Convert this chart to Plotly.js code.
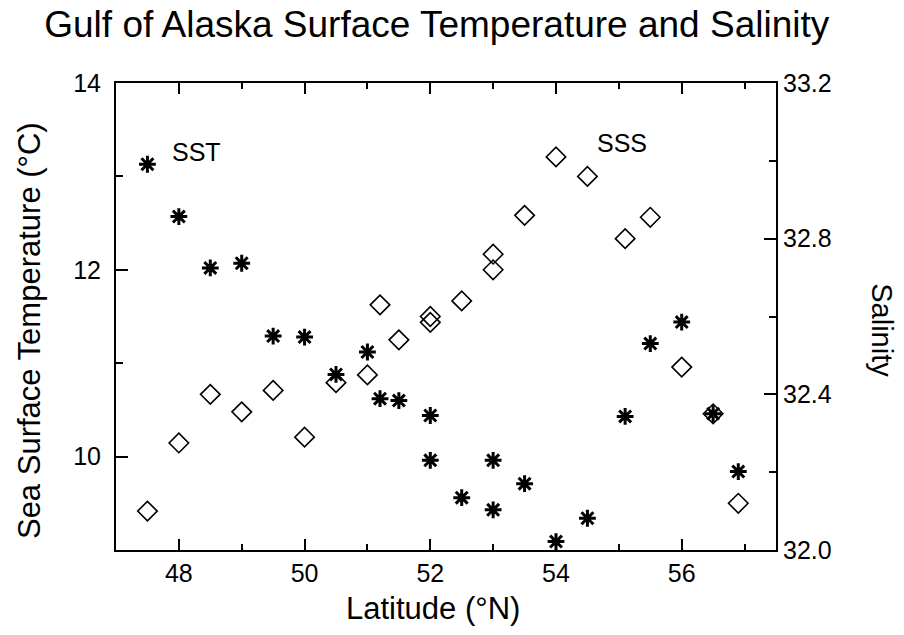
<!DOCTYPE html>
<html>
<head>
<meta charset="utf-8">
<script src="https://cdn.plot.ly/plotly-3.0.1.min.js"></script>
<style>html,body{margin:0;padding:0;background:#fff;}#chart{width:904px;height:635px;}</style>
</head>
<body>
<div id="chart"></div>
<script>
// Sea surface temperature (stars)
const sstLat = [47.5, 48.0, 48.5, 49.0, 49.5, 50.0, 50.5, 51.0, 51.2, 51.5, 52.0, 52.0, 52.5, 53.0, 53.0, 53.5, 54.0, 54.5, 55.1, 55.5, 56.0, 56.5, 56.9];
const sstVal = [13.13, 12.57, 12.02, 12.07, 11.29, 11.28, 10.88, 11.12, 10.62, 10.60, 10.44, 9.96, 9.56, 9.96, 9.43, 9.71, 9.09, 9.34, 10.43, 11.21, 11.44, 10.46, 9.84];
// Sea surface salinity (open diamonds)
const sssLat = [47.5, 48.0, 48.5, 49.0, 49.5, 50.0, 50.5, 51.0, 51.2, 51.5, 52.0, 52.0, 52.5, 53.0, 53.0, 53.5, 54.0, 54.5, 55.1, 55.5, 56.0, 56.5, 56.9];
const sssVal = [32.10, 32.275, 32.40, 32.355, 32.41, 32.29, 32.43, 32.45, 32.63, 32.54, 32.60, 32.585, 32.64, 32.76, 32.72, 32.86, 33.01, 32.96, 32.80, 32.855, 32.47, 32.35, 32.12];

const xTicks = [48, 50, 52, 54, 56];
const yTicks = [10, 12, 14];
const y2Ticks = [32.0, 32.4, 32.8, 33.2];
const y2TickText = ['32.0', '32.4', '32.8', '33.2'];

const FONT = 'Liberation Sans, Arial, sans-serif';

const traces = [
  {
    x: sstLat, y: sstVal, type: 'scatter', mode: 'markers', name: 'SST',
    marker: {symbol: 'asterisk', size: 14, color: '#000', line: {color: '#000', width: 3}},
    yaxis: 'y'
  },
  {
    x: sssLat, y: sssVal, type: 'scatter', mode: 'markers', name: 'SSS',
    marker: {symbol: 'diamond-open', size: 15, color: '#000', line: {color: '#000', width: 1.6}},
    yaxis: 'y2'
  }
];

const layout = {
  width: 904, height: 635,
  paper_bgcolor: '#fff', plot_bgcolor: '#fff',
  margin: {l: 116, r: 128, t: 83, b: 85},
  showlegend: false,
  font: {family: FONT, color: '#000', size: 25},
  title: {text: 'Gulf of Alaska Surface Temperature and Salinity', font: {family: FONT, size: 37, color: '#000'},
          x: 0.486, xanchor: 'center', xref: 'paper', y: 0.962, yanchor: 'middle', yref: 'container'},
  xaxis: {
    range: [47, 57.5], tickvals: xTicks, ticktext: xTicks.map(String),
    ticks: 'inside', ticklen: 11, tickwidth: 2, tickcolor: '#000',
    minor: {tickvals: [47, 49, 51, 53, 55, 57], ticks: 'inside', ticklen: 6, tickwidth: 2, tickcolor: '#000'},
    showline: true, linecolor: '#000', linewidth: 2, mirror: 'ticks',
    showgrid: false, zeroline: false,
    tickfont: {family: FONT, size: 25, color: '#000'}
  },
  yaxis: {
    range: [9, 14], tickvals: yTicks, ticktext: yTicks.map(String),
    ticks: 'inside', ticklen: 12, tickwidth: 2, tickcolor: '#000',
    minor: {tickvals: [11, 13], ticks: 'inside', ticklen: 7, tickwidth: 2, tickcolor: '#000'},
    showline: true, linecolor: '#000', linewidth: 2, mirror: false,
    showgrid: false, zeroline: false, ticklabelstandoff: 8,
    tickfont: {family: FONT, size: 25, color: '#000'}
  },
  yaxis2: {
    range: [32.0, 33.2], overlaying: 'y', side: 'right',
    tickvals: y2Ticks, ticktext: y2TickText,
    ticks: 'inside', ticklen: 12, tickwidth: 2, tickcolor: '#000',
    minor: {tickvals: [32.2, 32.6, 33.0], ticks: 'inside', ticklen: 7, tickwidth: 2, tickcolor: '#000'},
    showline: true, linecolor: '#000', linewidth: 2,
    showgrid: false, zeroline: false, ticklabelstandoff: 0,
    tickfont: {family: FONT, size: 25, color: '#000'}
  },
  annotations: [
    {text: 'Latitude (°N)', xref: 'paper', yref: 'paper', x: 0.48, y: -0.126, xanchor: 'center', yanchor: 'middle',
     showarrow: false, font: {family: FONT, size: 31, color: '#000'}},
    {text: 'Sea Surface Temperature (°C)', xref: 'paper', yref: 'paper', x: -0.131, y: 0.47, xanchor: 'center', yanchor: 'middle',
     textangle: -90, showarrow: false, font: {family: FONT, size: 31, color: '#000'}},
    {text: 'Salinity', xref: 'paper', yref: 'paper', x: 1.161, y: 0.47, xanchor: 'center', yanchor: 'middle',
     textangle: 90, showarrow: false, font: {family: FONT, size: 29, color: '#000'}},
    {text: 'SST', xref: 'x', yref: 'y', x: 47.86, y: 13.26, xanchor: 'left', yanchor: 'middle',
     showarrow: false, font: {family: FONT, size: 25, color: '#000'}},
    {text: 'SSS', xref: 'x', yref: 'y', x: 54.62, y: 13.36, xanchor: 'left', yanchor: 'middle',
     showarrow: false, font: {family: FONT, size: 25, color: '#000'}}
  ]
};

Plotly.newPlot('chart', traces, layout, {displayModeBar: false, staticPlot: true});
</script>
</body>
</html>
